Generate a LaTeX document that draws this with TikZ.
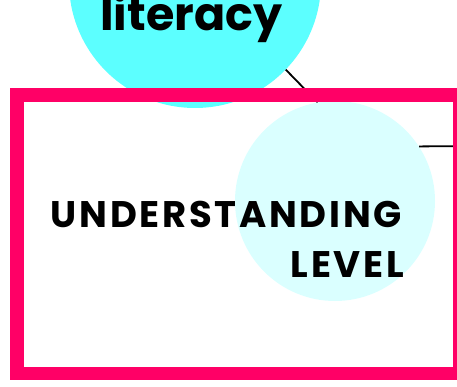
\documentclass[tikz,border=0pt]{standalone}
\usepackage{fontspec}
\setmainfont{Poppins}
\newfontfamily\headfont{Poppins}[LetterSpace=7.3]
\definecolor{bigcyan}{HTML}{5CFFFF}
\definecolor{smallcyan}{HTML}{DAFFFF}
\definecolor{hotpink}{HTML}{FF0066}
\tikzset{
  bigcirc/.style={circle, fill=bigcyan, minimum size=252pt, inner sep=0pt},
  smallcirc/.style={circle, fill=smallcyan, minimum size=200pt, inner sep=0pt},
  link/.style={draw=black, line width=1.8pt},
  frame/.style={draw=hotpink, line width=13.5pt},
  headtext/.style={anchor=base east, inner sep=0pt, font=\fontsize{37}{37}\headfont\bfseries},
}
\begin{document}
\begin{tikzpicture}[x=1pt,y=-1pt]
\useasboundingbox (0,0) rectangle (457,387);
\node[bigcirc] (big) at (195,-18) {};
\node[smallcirc] (small) at (335,201) {};
\coordinate (off) at (475,146);
\draw[link] (big.-44) -- (small.100);
\draw[link] (small.33.5) -- (off);
\draw[frame] (17,95) rectangle (459.5,373.5);
\node[anchor=base west, inner sep=0pt, font=\fontsize{46}{46}\selectfont\bfseries] (lit) at (100,31) {literacy};
\node[headtext] (und) at (402,227) {UNDERSTANDING};
\node[headtext] (lev) at (404,277) {LEVEL};
\end{tikzpicture}
\end{document}
